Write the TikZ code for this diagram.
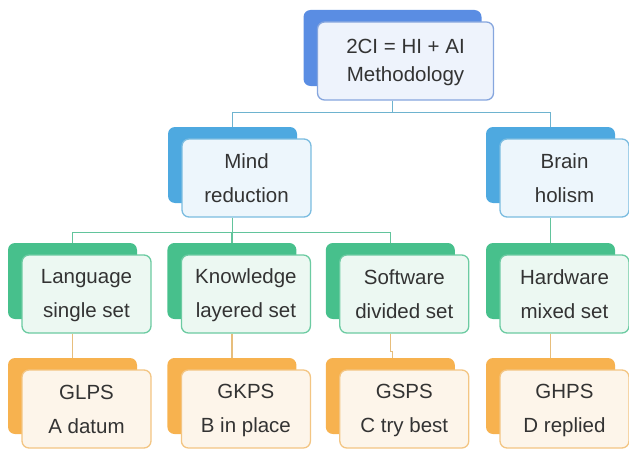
\documentclass[tikz,border=0pt]{standalone}
\usepackage{fontspec}
\setmainfont{Liberation Sans}
\usepackage{xcolor}
\usetikzlibrary{positioning}

\definecolor{txtgray}{HTML}{333333}
\definecolor{topback}{HTML}{5A8DE3}
\definecolor{topfill}{HTML}{EEF3FC}
\definecolor{topedge}{HTML}{86A6DE}
\definecolor{skyback}{HTML}{4EA9E0}
\definecolor{skyfill}{HTML}{EDF6FC}
\definecolor{skyedge}{HTML}{7BBCE0}
\definecolor{grnback}{HTML}{47C08C}
\definecolor{grnfill}{HTML}{ECF8F2}
\definecolor{grnedge}{HTML}{6CCBA2}
\definecolor{orgback}{HTML}{F7B24F}
\definecolor{orgfill}{HTML}{FDF5EA}
\definecolor{orgedge}{HTML}{F3C583}
\definecolor{skylink}{HTML}{6EB3CF}
\definecolor{grnlink}{HTML}{62C49C}
\definecolor{orglink}{HTML}{E7BE7C}

% two centred lines with a fixed strut, so every box sets them at the same height
\newcommand{\boxstrut}{\rule[-3pt]{0pt}{20pt}}
\newcommand{\twolines}[2]{\boxstrut#1\\\boxstrut#2}

\begin{document}
\begin{tikzpicture}[
    x=1pt, y=-1pt,
    back/.style={rectangle, rounded corners=7pt, minimum width=129pt, minimum height=76pt, inner sep=0pt},
    front/.style={rectangle, draw, line width=1.3pt, rounded corners=7pt, minimum width=129pt, minimum height=78pt, inner sep=0pt, align=center, text=txtgray, font=\fontsize{20.5}{34}\selectfont},
    link/.style={line width=1.3pt}
]
    \useasboundingbox (0,0) rectangle (629,452);

    % Top node
    \node[back, fill=topback, minimum width=178pt] (topB) at (392.5,48) {};
    \node[front, fill=topfill, draw=topedge, minimum width=176pt, font=\fontsize{20.5}{28}\selectfont] (topF) at ([shift={(13,13)}]topB.center) {\twolines{2CI = HI + AI}{Methodology}};

    % Second row
    \node[back, fill=skyback] (mindB) at (232.5,165) {};
    \node[front, fill=skyfill, draw=skyedge] (mindF) at ([shift={(14,13)}]mindB.center) {\twolines{Mind}{reduction}};
    \node[back, fill=skyback] (brainB) at (550.5,165) {};
    \node[front, fill=skyfill, draw=skyedge] (brainF) at ([shift={(14,13)}]brainB.center) {\twolines{Brain}{holism}};

    % Third row
    \node[back, fill=grnback] (lanB) at (72.5,281) {};
    \node[back, fill=grnback, right=30pt of lanB] (knowB) {};
    \node[back, fill=grnback, right=29pt of knowB] (softB) {};
    \node[back, fill=grnback] (hardB) at (550.5,281) {};
    \node[front, fill=grnfill, draw=grnedge] (lanF) at ([shift={(14,13)}]lanB.center) {\twolines{Language}{single set}};
    \node[front, fill=grnfill, draw=grnedge] (knowF) at ([shift={(14,13)}]knowB.center) {\twolines{Knowledge}{layered set}};
    \node[front, fill=grnfill, draw=grnedge] (softF) at ([shift={(14,13)}]softB.center) {\twolines{Software}{divided set}};
    \node[front, fill=grnfill, draw=grnedge] (hardF) at ([shift={(14,13)}]hardB.center) {\twolines{Hardware}{mixed set}};

    % Bottom row
    \node[back, fill=orgback] (glpsB) at (lanB |- 0,396) {};
    \node[back, fill=orgback] (gkpsB) at (knowB |- 0,396) {};
    \node[back, fill=orgback] (gspsB) at (softB |- 0,396) {};
    \node[back, fill=orgback] (ghpsB) at (hardB |- 0,396) {};
    \node[front, fill=orgfill, draw=orgedge] (glpsF) at ([shift={(14,13)}]glpsB.center) {\twolines{GLPS}{A datum}};
    \node[front, fill=orgfill, draw=orgedge] (gkpsF) at ([shift={(14,13)}]gkpsB.center) {\twolines{GKPS}{B in place}};
    \node[front, fill=orgfill, draw=orgedge] (gspsF) at ([shift={(14,13)}]gspsB.center) {\twolines{GSPS}{C try best}};
    \node[front, fill=orgfill, draw=orgedge] (ghpsF) at ([shift={(14,13)}]ghpsB.center) {\twolines{GHPS}{D replied}};

    % Connectors
    \draw[link, skylink] (topB |- topF.south) -- ++(0,12) -| (mindB.north);
    \draw[link, skylink] (topB |- topF.south) -- ++(0,12) -| (brainB.north);
    \draw[link, grnlink] (mindB |- mindF.south) -- ++(0,15) -| (lanB.north);
    \draw[link, grnlink] (mindB |- mindF.south) -- ++(0,15) -| (knowB.north);
    \draw[link, grnlink] (mindB |- mindF.south) -- ++(0,15) -| (softB.north);
    \draw[link, grnlink] (brainB |- brainF.south) -- (hardB.north);
    \draw[link, orglink] (lanB |- lanF.south) -- (glpsB.north);
    \draw[link, orglink] (knowB |- knowF.south) -- (gkpsB.north);
    \draw[link, orglink] (softB |- softF.south) -- ++(0,18) -| ([xshift=2pt]gspsB.north);
    \draw[link, orglink] (hardB |- hardF.south) -- (ghpsB.north);
\end{tikzpicture}
\end{document}
